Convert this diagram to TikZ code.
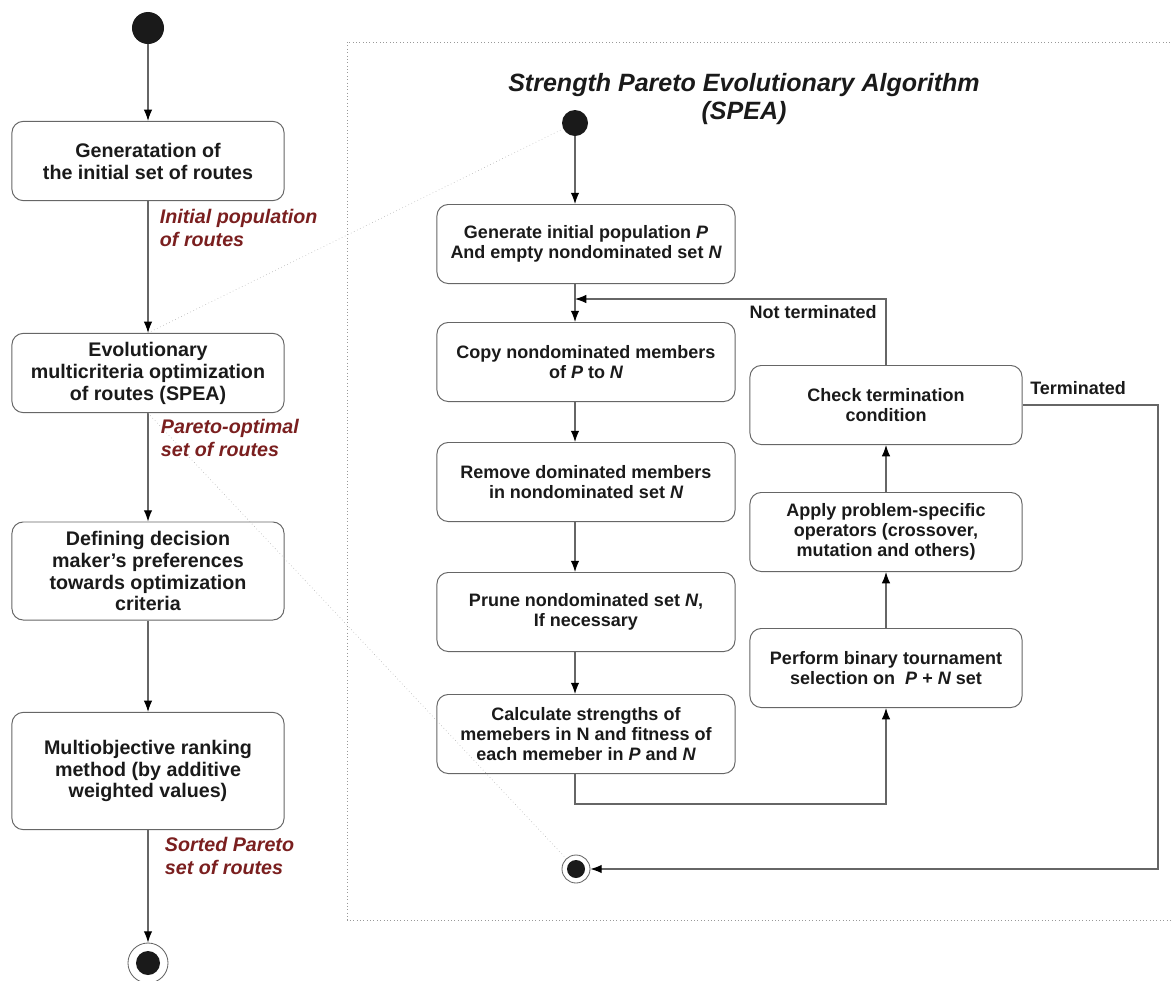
\documentclass[tikz,border=0pt]{standalone}
\usepackage{fontspec}
\setmainfont{Liberation Sans}
\usepackage[HTML]{xcolor}
\usetikzlibrary{positioning, arrows.meta}

\definecolor{labelred}{HTML}{7A1F1F}
\definecolor{linegray}{HTML}{666666}

\begin{document}
\begin{tikzpicture}[x=0.025cm, y=-0.025cm,
  box/.style={draw=linegray, line width=0.7pt, rounded corners=8pt, align=center,
    text=black!90, inner sep=2pt, minimum width=6.8cm, minimum height=1.98cm,
    font=\bfseries\fontsize{14}{15.6}\selectfont},
  spbox/.style={box, minimum height=1.975cm, font=\bfseries\fontsize{12.8}{14.2}\selectfont},
  flow/.style={draw=linegray, line width=0.75pt, -{Latex[length=8pt, width=6pt, color=black]}},
  hint/.style={draw=black!35, line width=0.4pt, dotted},
  lbl/.style={anchor=west, align=left, text=labelred, font=\bfseries\itshape\fontsize{14}{16.4}\selectfont},
  cond/.style={text=black!90, inner sep=0pt, font=\bfseries\fontsize{12.8}{14.2}\selectfont},
  dot/.style={circle, fill=black!90, inner sep=0pt},
  ring/.style={circle, draw=linegray, line width=0.6pt, fill=white, inner sep=0pt}]
\useasboundingbox (0,0) rectangle (1173,981);

% frame of the SPEA part
\draw[black!40, line width=0.4pt, dotted] (347,42) rectangle (1200,920);

% main activity flow
\node[dot, minimum size=0.8cm] (b0) at (148,28) {};
\node[box] (initial) at (148,161) {Generatation of\\the initial set of routes};
\node[box] (evo) at (148,373) {Evolutionary\\multicriteria optimization\\of routes (SPEA)};
\node[box, minimum height=2.45cm] (prefs) at (148,571) {Defining decision\\maker’s preferences\\towards optimization\\criteria};
\node[box, minimum height=2.93cm] (rank) at (148,771) {Multiobjective ranking\\method (by additive\\weighted values)};
\node[ring, minimum size=1cm] (b1) at (148,963) {};
\node[dot, minimum size=0.6cm] (b1in) at (b1) {};

\node[lbl] (popl) at (155,228) {Initial population\\of routes};
\node[lbl] (parl) at (156,438) {Pareto-optimal\\set of routes};
\node[lbl] (sortl) at (160,856) {Sorted Pareto\\set of routes};

\draw[flow] (b0) -- (initial);
\draw[flow] (initial) -- (evo);
\draw[flow] (evo) -- (prefs);
\draw[flow] (prefs) -- (rank);
\draw[flow] (rank) -- (b1);

% SPEA
\node[align=center, text=black!90, font=\bfseries\itshape\fontsize{17.8}{19.4}\selectfont] (title) at (744,99)
  {Strength Pareto Evolutionary Algorithm\\(SPEA)};
\node[dot, minimum size=0.65cm] (s0) at (575,123) {};
\coordinate (join) at (575,299);
\coordinate (low) at (0,804);
\coordinate (rim) at (1158,0);

\node[spbox, minimum width=7.45cm] (gen) at (586,244) {Generate initial population {\itshape P}\\And empty nondominated set {\itshape N}};
\node[spbox, minimum width=7.45cm] (copy) at (586,362) {Copy nondominated members\\of {\itshape P} to {\itshape N}};
\node[spbox, minimum width=7.45cm] (remove) at (586,482) {Remove dominated members\\in nondominated set {\itshape N}};
\node[spbox, minimum width=7.45cm] (prune) at (586,612) {Prune nondominated set {\itshape N},\\If necessary};
\node[spbox, minimum width=7.45cm] (calc) at (586,734) {Calculate strengths of\\memebers in N and fitness of\\each memeber in {\itshape P} and {\itshape N}};

\node[spbox] (select) at (886,668) {Perform binary tournament\\selection on \ {\itshape P} + {\itshape N} set};
\node[spbox] (apply) at (886,532) {Apply problem-specific\\operators (crossover,\\mutation and others)};
\node[spbox] (check) at (886,405) {Check termination\\condition};
\node[ring, minimum size=0.7cm] (s1) at (576,869) {};
\node[dot, minimum size=0.45cm] (s1in) at (s1) {};

\node[cond, anchor=east] (notterm) at (877,312) {Not terminated};
\node[cond, anchor=west] (term) at (1030,388) {Terminated};

\draw[flow] (s0) -- (gen.north -| s0);
\draw[flow] (gen.south -| s0) -- (copy.north -| s0);
\draw[flow] (copy.south -| s0) -- (remove.north -| s0);
\draw[flow] (remove.south -| s0) -- (prune.north -| s0);
\draw[flow] (prune.south -| s0) -- (calc.north -| s0);
\draw[flow] (calc.south -| s0) |- (low -| select) -- (select.south);
\draw[flow] (select) -- (apply);
\draw[flow] (apply) -- (check);
\draw[flow] (check.north) |- (join);
\draw[flow] (check.east) -| (rim |- s1) -- (s1);

% zoom lines
\draw[hint] (evo.north) -- (s0);
\draw[hint] (evo.south) -- (s1);
\end{tikzpicture}
\end{document}
